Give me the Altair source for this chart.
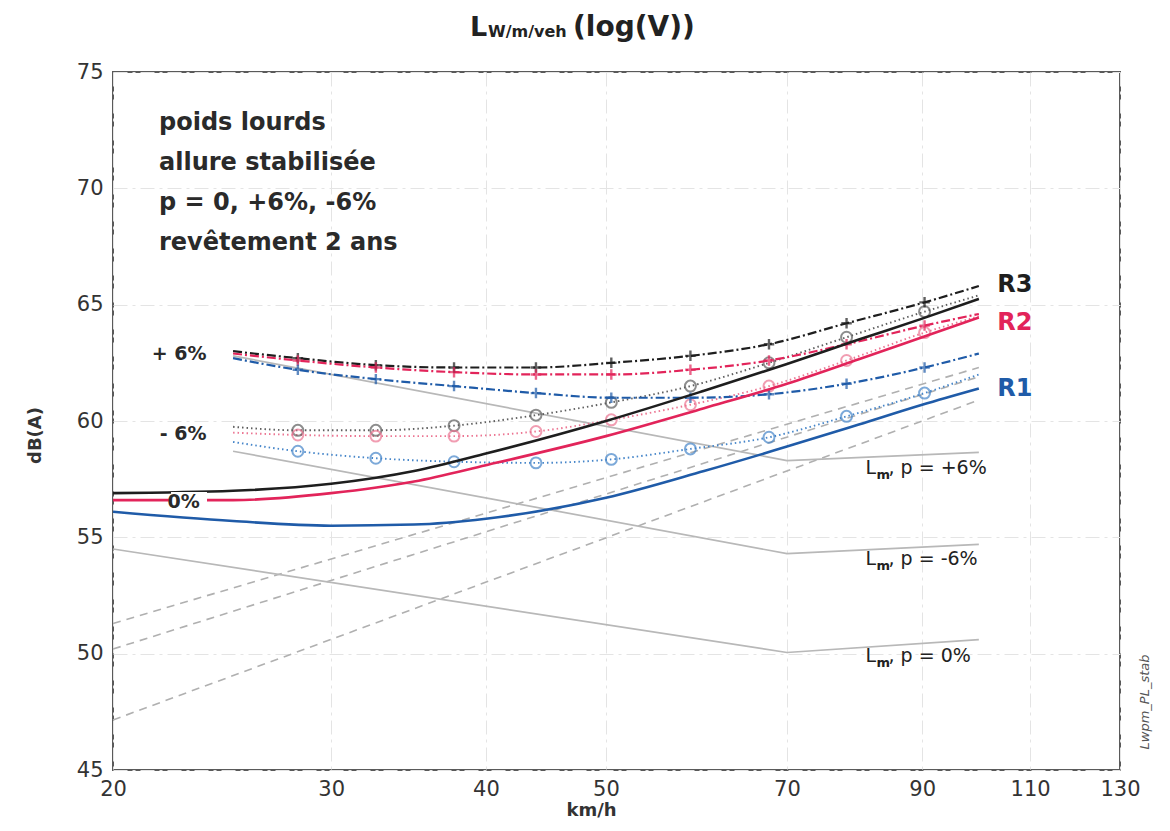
import altair as alt
import pandas as pd

# ---------------- data ----------------
# p = 0 % (solid curves)
v_flat = [20, 25, 30, 35, 40, 50, 60, 70, 80, 90, 100]
flat_R3 = [56.9, 57.0, 57.3, 57.85, 58.6, 60.0, 61.3, 62.45, 63.5, 64.4, 65.25]
flat_R2 = [56.6, 56.6, 56.9, 57.4, 58.1, 59.35, 60.55, 61.6, 62.65, 63.6, 64.45]
flat_R1 = [56.1, 55.7, 55.5, 55.55, 55.8, 56.7, 57.85, 58.9, 59.85, 60.7, 61.4]

# p = +6 % (dash-dot, "+" markers) and p = -6 % (dotted, "o" markers)
v_grade = [25, 28.2, 32.6, 37.7, 43.9, 50.5, 58.5, 67.7, 78.2, 90.4, 100]
up_R3 = [63.0, 62.7, 62.4, 62.3, 62.3, 62.5, 62.8, 63.3, 64.2, 65.1, 65.8]
up_R2 = [62.9, 62.6, 62.3, 62.1, 62.0, 62.0, 62.2, 62.6, 63.3, 64.1, 64.6]
up_R1 = [62.7, 62.2, 61.8, 61.5, 61.2, 61.0, 61.0, 61.15, 61.6, 62.3, 62.9]
down_R3 = [59.75, 59.6, 59.6, 59.8, 60.25, 60.8, 61.5, 62.5, 63.6, 64.7, 65.4]
down_R2 = [59.5, 59.4, 59.35, 59.35, 59.55, 60.05, 60.7, 61.5, 62.6, 63.8, 64.5]
down_R1 = [59.1, 58.7, 58.4, 58.25, 58.2, 58.35, 58.8, 59.3, 60.2, 61.2, 62.0]
v_marks = [28.2, 32.6, 37.7, 43.9, 50.5, 58.5, 67.7, 78.2, 90.4]

# grey dashed straight lines
v_roll = [20, 100]
roll_a = [51.3, 62.3]
roll_b = [50.2, 61.9]
roll_c = [47.15, 60.9]

# grey Lm lines
v_lm = [25, 70, 100]
lm_up = [62.8, 58.3, 58.65]
lm_down = [58.7, 54.3, 54.7]
v_lm0 = [20, 70, 100]
lm_zero = [54.5, 50.05, 50.6]

x_ticks = [20, 30, 40, 50, 70, 90, 110, 130]
y_ticks = [45, 50, 55, 60, 65, 70, 75]

info_lines = ["poids lourds", "allure stabilisée", "p = 0, +6%, -6%", "revêtement 2 ans"]


def long(v, series):
    rows = []
    for name, ys in series:
        for vi, yi in zip(v, ys):
            rows.append({"v": vi, "db": yi, "s": name})
    return pd.DataFrame(rows)


df_flat = long(v_flat, [("R3_0", flat_R3), ("R2_0", flat_R2), ("R1_0", flat_R1)])
df_up = long(v_grade, [("R3_up", up_R3), ("R2_up", up_R2), ("R1_up", up_R1)])
df_down = long(v_grade, [("R3_dn", down_R3), ("R2_dn", down_R2), ("R1_dn", down_R1)])
df_up_m = df_up[df_up["v"].isin(v_marks)]
df_down_m = df_down[df_down["v"].isin(v_marks)]
df_roll = long(v_roll, [("roll_a", roll_a), ("roll_b", roll_b), ("roll_c", roll_c)])
df_lm = pd.concat([
    long(v_lm, [("lm_up", lm_up), ("lm_dn", lm_down)]),
    long(v_lm0, [("lm_0", lm_zero)]),
])

palette = {
    "R3_0": "#1e1e1e", "R2_0": "#e2245a", "R1_0": "#1f5ba8",
    "R3_up": "#1e1e1e", "R2_up": "#e2245a", "R1_up": "#1f5ba8",
    "R3_dn": "#5e5e5e", "R2_dn": "#ec7592", "R1_dn": "#4585c9",
    "roll_a": "#b0b0b0", "roll_b": "#b0b0b0", "roll_c": "#b0b0b0",
    "lm_up": "#b8b8b8", "lm_dn": "#b8b8b8", "lm_0": "#b8b8b8",
}
color = alt.Color("s:N", scale=alt.Scale(domain=list(palette.keys()),
                                         range=list(palette.values())), legend=None)

X = alt.X("v:Q", scale=alt.Scale(type="log", domain=[20, 130], nice=False),
          axis=alt.Axis(values=x_ticks, title="km/h", format="d", labelFlush=False,
                        labelPadding=8, titleX=478, titleY=40,
                        titleBaseline="middle", titleAlign="center"))
Y = alt.Y("db:Q", scale=alt.Scale(domain=[45, 75], nice=False, zero=False),
          axis=alt.Axis(values=y_ticks, title="dB(A)", labelPadding=10, labelFlush=False,
                        titleX=-78, titleY=363, titleAngle=270,
                        titleAlign="center", titleBaseline="middle"))

roll = alt.Chart(df_roll).mark_line(strokeDash=[8, 6], strokeWidth=1.6).encode(
    x=X, y=Y, color=color, detail="s:N")
lm = alt.Chart(df_lm).mark_line(strokeWidth=1.7).encode(x=X, y=Y, color=color, detail="s:N")
down = alt.Chart(df_down).mark_line(strokeDash=[1.5, 3], strokeWidth=1.9,
                                    interpolate="monotone").encode(x=X, y=Y, color=color)
down_m = alt.Chart(df_down_m).mark_point(shape="circle", filled=False, size=120,
                                         strokeWidth=2).encode(x=X, y=Y, color=color)
up = alt.Chart(df_up).mark_line(strokeDash=[9, 3, 2, 3], strokeWidth=2.2,
                                interpolate="monotone").encode(x=X, y=Y, color=color)
up_m = alt.Chart(df_up_m).mark_point(shape="M-1,0L1,0M0,-1L0,1", filled=False, size=110,
                                     strokeWidth=2.4).encode(x=X, y=Y, color=color)
flat = alt.Chart(df_flat).mark_line(strokeWidth=2.6, interpolate="monotone").encode(
    x=X, y=Y, color=color)

FONT = "DejaVu Sans"

fam = pd.DataFrame({"v": [23.8, 23.8], "db": [62.9, 59.45], "t": ["+ 6%", "- 6%"]})
fam_txt = alt.Chart(fam).mark_text(align="right", baseline="middle", font=FONT,
                                   fontSize=19, fontWeight="bold", color="#2a2a2a").encode(
    x=X, y=Y, text="t:N")
zero_bg = alt.Chart(pd.DataFrame({"a": [0]})).mark_rect(color="white").encode(
    x=alt.value(58), x2=alt.value(94), y=alt.value(420), y2=alt.value(442))
zero_txt = alt.Chart(pd.DataFrame({"v": [23.5], "db": [56.5], "t": ["0%"]})).mark_text(
    align="right", baseline="middle", font=FONT, fontSize=19, fontWeight="bold",
    color="#2a2a2a").encode(x=X, y=Y, text="t:N")

rlab = pd.DataFrame({"v": [103.5, 103.5, 103.5], "db": [65.85, 64.2, 61.37],
                     "t": ["R3", "R2", "R1"], "s": ["R3_0", "R2_0", "R1_0"]})
r_txt = alt.Chart(rlab).mark_text(align="left", baseline="middle", font=FONT, fontSize=24,
                                  fontWeight="bold").encode(x=X, y=Y, text="t:N", color=color)

lm_lab = pd.DataFrame({"v": [81.0, 81.0, 81.0], "db": [58.0, 54.05, 49.9],
                       "t": [", p = +6%", ", p = -6%", ", p = 0%"]})
lm_L = alt.Chart(lm_lab).mark_text(align="left", baseline="middle", font=FONT, fontSize=19,
                                   color="#222").encode(x=X, y=Y, text=alt.value("L"))
lm_m = alt.Chart(lm_lab).mark_text(align="left", baseline="middle", font=FONT, fontSize=13,
                                   fontWeight="bold", color="#222", dx=11, dy=7).encode(
    x=X, y=Y, text=alt.value("m"))
lm_rest = alt.Chart(lm_lab).mark_text(align="left", baseline="middle", font=FONT, fontSize=19,
                                      color="#222", dx=23).encode(x=X, y=Y, text="t:N")

one = pd.DataFrame({"a": [0]})
info = alt.Chart(one).mark_text(text=info_lines, lineHeight=40, align="left",
                                baseline="alphabetic", font=FONT, fontSize=24,
                                fontWeight="bold", color="#2a2a2a").encode(
    x=alt.value(46), y=alt.value(58))

title_L = alt.Chart(one).mark_text(text="L", align="left", baseline="alphabetic", font=FONT,
                                   fontSize=27, fontWeight="bold", color="#222").encode(
    x=alt.value(357), y=alt.value(-36))
title_sub = alt.Chart(one).mark_text(text="W/m/veh", align="left", baseline="alphabetic",
                                     font=FONT, fontSize=16, fontWeight="bold",
                                     color="#222").encode(x=alt.value(375), y=alt.value(-35))
title_rest = alt.Chart(one).mark_text(text="(log(V))", align="left", baseline="alphabetic",
                                      font=FONT, fontSize=28, fontWeight="bold",
                                      color="#222").encode(x=alt.value(460), y=alt.value(-36))
stamp = alt.Chart(one).mark_text(text="Lwpm_PL_stab", angle=270, align="center",
                                 baseline="middle", font=FONT, fontSize=13, fontStyle="italic",
                                 color="#555").encode(x=alt.value(1032), y=alt.value(630))

chart = alt.layer(
    roll, lm, down, down_m, up, up_m, flat,
    fam_txt, zero_bg, zero_txt, r_txt, lm_L, lm_m, lm_rest,
    info, title_L, title_sub, title_rest, stamp,
).properties(
    width=1007, height=698,
    autosize=alt.AutoSizeParams(type="none"),
    padding={"left": 105, "top": 64, "right": 42, "bottom": 53},
).configure_view(
    stroke="#5a5a5a", strokeWidth=2
).configure_axis(
    grid=True, gridColor="#e4e4e4", gridDash=[14, 5, 3, 5], gridWidth=1,
    domain=False, ticks=False,
    labelFont=FONT, labelFontSize=21, labelColor="#333",
    titleFont=FONT, titleFontSize=18, titleFontWeight="bold", titleColor="#333",
)

chart.save("out.html", embed_options={"renderer": "svg", "actions": False})
